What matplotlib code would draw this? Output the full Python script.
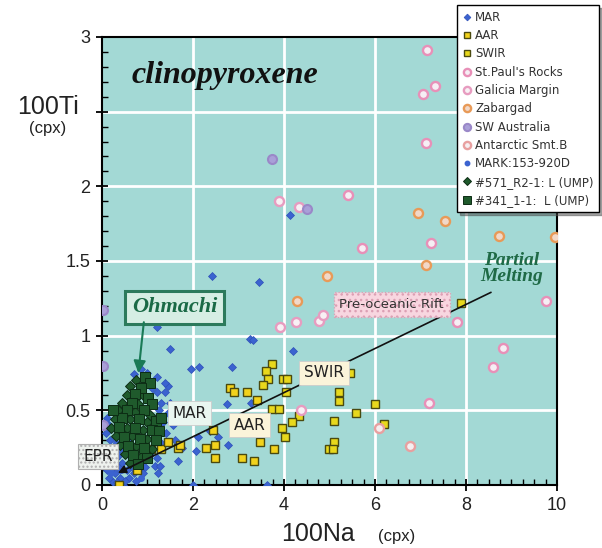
import numpy as np
import matplotlib
matplotlib.use("Agg")
import matplotlib.pyplot as plt

# ---- data (100Na, 100Ti) ----
mar_x = [4.13, 2.42, 3.46, 1.20, 3.25, 3.31, 1.49, 4.20, 1.95, 2.13, 2.86, 1.46, 1.38, 2.75, 3.27,
         2.12, 2.37, 2.56, 2.78, 2.07, 1.75, 1.66, 1.16, 1.27, 1.24, 3.62, 2.00, 0.47, 0.25, 1.60,
         0.10, 0.15, 0.08, 0.18, 0.12, 0.22, 0.30, 0.20, 0.35, 0.28, 0.40, 0.15, 0.45, 0.55, 0.60,
         0.70, 0.50, 0.38, 0.25, 0.32, 0.65, 0.80, 0.90, 0.75, 1.15, 1.25, 1.30, 1.20, 1.35, 1.40,
         1.30, 1.45, 1.10, 1.00, 0.85, 0.70, 1.55, 0.05, 0.10, 0.42, 1.38, 1.22, 1.50, 0.95, 1.05,
         1.20, 0.60]
mar_y = [1.81, 1.40, 1.36, 1.06, 0.98, 0.97, 0.91, 0.90, 0.78, 0.79, 0.79, 0.66, 0.62, 0.54, 0.55,
         0.32, 0.36, 0.32, 0.27, 0.23, 0.25, 0.16, 0.13, 0.13, 0.08, 0.00, 0.00, 0.00, 0.02, 0.30,
         0.45, 0.40, 0.35, 0.30, 0.25, 0.22, 0.18, 0.15, 0.12, 0.08, 0.05, 0.05, 0.15, 0.10, 0.05,
         0.08, 0.03, 0.20, 0.12, 0.02, 0.12, 0.10, 0.08, 0.03, 0.45, 0.50, 0.55, 0.62, 0.42, 0.35,
         0.28, 0.48, 0.65, 0.75, 0.78, 0.74, 0.40, 0.20, 0.10, 0.25, 0.68, 0.72, 0.55, 0.12, 0.20,
         0.18, 0.20]

aar_x = [1.07, 1.29, 1.46, 1.66, 1.71, 0.78, 0.37, 2.29, 2.45, 2.48, 2.48, 2.81, 2.90, 3.18, 3.40,
         3.07, 3.34, 3.47, 3.77]
aar_y = [0.24, 0.24, 0.29, 0.25, 0.27, 0.10, 0.00, 0.25, 0.37, 0.18, 0.27, 0.65, 0.62, 0.62, 0.57,
         0.18, 0.16, 0.29, 0.24]

swir_x = [3.73, 3.60, 3.64, 3.53, 3.97, 4.07, 4.04, 3.73, 3.90, 4.34, 4.17, 3.95, 4.02, 5.00, 7.89,
          5.45, 5.21, 5.21, 6.00, 5.58, 5.10, 6.20, 5.10, 5.07]
swir_y = [0.81, 0.76, 0.71, 0.67, 0.71, 0.71, 0.62, 0.51, 0.51, 0.46, 0.42, 0.38, 0.32, 0.24, 1.22,
          0.75, 0.62, 0.56, 0.54, 0.48, 0.43, 0.41, 0.29, 0.24]

stpaul_x = [7.14, 7.05, 7.32, 7.12, 5.41, 5.72, 7.23, 7.80, 9.76, 8.81, 8.59, 7.19]
stpaul_y = [2.91, 2.62, 2.67, 2.29, 1.94, 1.59, 1.62, 1.09, 1.23, 0.92, 0.79, 0.55]

galicia_x = [3.89, 4.33, 3.91, 4.26, 4.77, 4.86, 4.37]
galicia_y = [1.90, 1.86, 1.06, 1.09, 1.10, 1.14, 0.50]

zabargad_x = [6.95, 7.54, 8.73, 9.96, 7.12, 4.94, 4.28]
zabargad_y = [1.82, 1.77, 1.67, 1.66, 1.47, 1.40, 1.23]

swaus_x = [3.74, 4.51, 0.03, 0.03, 0.03]
swaus_y = [2.18, 1.85, 1.17, 0.80, 0.40]

antarc_x = [6.09, 6.77]
antarc_y = [0.38, 0.26]

mark_x = [0.30, 0.50, 0.62, 0.20, 0.42, 0.85]
mark_y = [0.28, 0.22, 0.30, 0.08, 0.10, 0.05]

ump571_x = [0.75, 0.62, 0.55, 0.90, 0.45, 0.80, 0.35, 0.72, 1.05, 0.28, 0.62, 1.00, 0.20, 0.55,
            0.90, 0.30, 0.65, 1.00, 0.40, 0.75, 1.10, 0.50, 0.85, 0.62]
ump571_y = [0.70, 0.66, 0.60, 0.60, 0.55, 0.54, 0.50, 0.49, 0.47, 0.44, 0.44, 0.42, 0.38, 0.38,
            0.37, 0.33, 0.33, 0.31, 0.27, 0.26, 0.24, 0.21, 0.19, 0.15]
ump341_x = [0.95, 1.05, 0.85, 0.72, 1.02, 0.65, 1.10, 0.55, 0.92, 0.45, 0.82, 1.18, 0.38, 0.72,
            1.10, 1.25, 0.48, 0.83, 1.18, 0.58, 0.92, 0.68, 1.00, 0.80, 1.30, 0.25]
ump341_y = [0.72, 0.68, 0.65, 0.61, 0.58, 0.55, 0.54, 0.50, 0.50, 0.45, 0.44, 0.43, 0.39, 0.38,
            0.37, 0.36, 0.32, 0.31, 0.30, 0.26, 0.25, 0.20, 0.18, 0.14, 0.45, 0.50]

# trend line, EPR end is the arrow head
melt_x = [8.55, 0.35]
melt_y = [1.29, 0.08]

xticks = [0, 2, 4, 6, 8, 10]
yticks = [0, 0.5, 1, 1.5, 2, 2.5, 3]
ytick_labels = ["0", "0.5", "1", "1.5", "2", "", "3"]

# ---- figure ----
fig = plt.figure(figsize=(6.02, 5.48), dpi=100)
ax = fig.add_axes([0.1694, 0.115, 0.7558, 0.8175])
ax.set_facecolor("#a3d9d5")

ax.set_xlim(0, 10)
ax.set_ylim(0, 3)
ax.set_xticks(xticks)
ax.set_xticks(np.arange(0, 10.01, 0.25), minor=True)
ax.set_yticks(yticks)
ax.set_yticklabels(ytick_labels)
ax.set_yticks(np.arange(0, 3.01, 0.1), minor=True)
ax.tick_params(which="major", direction="inout", length=9, width=1.3, labelsize=13, pad=4,
               labelcolor="#222222")
ax.tick_params(which="minor", direction="in", length=4, width=1.0)
for lab in ax.get_xticklabels() + ax.get_yticklabels():
    lab.set_family("Liberation Sans")
for sp in ax.spines.values():
    sp.set_linewidth(1.5)

for gx in [2, 4, 6, 8]:
    ax.axvline(gx, color="white", lw=2, zorder=1)
for gy in [0.5, 1, 1.5, 2, 2.5]:
    ax.axhline(gy, color="white", lw=2, zorder=1)

# ---- series ----
ax.plot(mar_x, mar_y, "D", ls="none", ms=4.3, mfc="#3b63d0", mec="#2e50b8", mew=0.5,
        zorder=3, label="MAR")
ax.plot(aar_x, aar_y, "s", ls="none", ms=6.2, mfc="#f2d21c", mec="#4a4a10", mew=1.0,
        zorder=4, label="AAR")
ax.plot(swir_x, swir_y, "s", ls="none", ms=6.2, mfc="#e8d81c", mec="#4a4a10", mew=1.0,
        zorder=4, label="SWIR")
ax.plot(stpaul_x, stpaul_y, "o", ls="none", ms=6.5, mfc="#f6eef4", mec="#e890b8", mew=1.7,
        zorder=4, label="St.Paul's Rocks")
ax.plot(galicia_x, galicia_y, "o", ls="none", ms=6.5, mfc="#f8f0f4", mec="#e79cc0", mew=1.7,
        zorder=4, label="Galicia Margin")
ax.plot(zabargad_x, zabargad_y, "o", ls="none", ms=6.5, mfc="#f2d8c8", mec="#e89a58", mew=1.7,
        zorder=4, label="Zabargad")
ax.plot(swaus_x, swaus_y, "o", ls="none", ms=6.5, mfc="#a9a0d8", mec="#9a88c8", mew=1.5,
        zorder=4, label="SW Australia")
ax.plot(antarc_x, antarc_y, "o", ls="none", ms=6.5, mfc="#f6eef0", mec="#e8a0a0", mew=1.7,
        zorder=4, label="Antarctic Smt.B")
ax.plot(mark_x, mark_y, "o", ls="none", ms=4, mfc="#3b63d0", mec="#3b63d0",
        zorder=3, label="MARK:153-920D")
ax.plot(ump571_x, ump571_y, "D", ls="none", ms=5.2, mfc="#1f5a2c", mec="#0c2c14", mew=0.7,
        zorder=5, label="#571_R2-1: L (UMP)")
ax.plot(ump341_x, ump341_y, "s", ls="none", ms=6.5, mfc="#1f5a2c", mec="#0c2c14", mew=0.7,
        zorder=5, label="#341_1-1:  L (UMP)")

# ---- partial melting trend ----
ax.annotate("", xy=(melt_x[1], melt_y[1]), xytext=(melt_x[0], melt_y[0]),
            arrowprops=dict(arrowstyle="-|>", color="#111111", lw=1.2,
                            mutation_scale=12, shrinkA=0, shrinkB=0), zorder=6)
ax.text(9.0, 1.45, "Partial\nMelting", ha="center", va="center", color="#1f6a46",
        fontsize=14, fontweight="bold", style="italic", family="Liberation Serif",
        linespacing=0.95, zorder=7)

box_kw = dict(ha="center", va="center", fontsize=11, family="DejaVu Sans", color="#222222", zorder=8)
ax.text(-0.09, 0.19, "EPR", clip_on=False,
        bbox=dict(boxstyle="square,pad=0.35", fc="#eef2ee", ec="#b0b0b0", lw=0.8,
                  hatch="...."), **box_kw)
ax.text(1.93, 0.48, "MAR", bbox=dict(boxstyle="square,pad=0.3", fc="#eaf6f0", ec="#cccccc", lw=0.6),
        **box_kw)
ax.text(3.25, 0.40, "AAR", bbox=dict(boxstyle="square,pad=0.3", fc="#fbf4da", ec="#cccccc", lw=0.6),
        **box_kw)
ax.text(4.88, 0.75, "SWIR", bbox=dict(boxstyle="square,pad=0.3", fc="#fbf4da", ec="#cccccc", lw=0.6),
        **box_kw)
ax.text(6.37, 1.21, "Pre-oceanic Rift", ha="center", va="center", fontsize=9.5,
        family="DejaVu Sans", color="#333333", zorder=8,
        bbox=dict(boxstyle="square,pad=0.45", fc="#f8d6e0", ec="#dca0b4", lw=0.9, ls=":",
                  hatch="..."))

# ---- Ohmachi label ----
ax.text(1.60, 1.19, "Ohmachi", ha="center", va="center", fontsize=16, fontweight="bold",
        style="italic", family="Liberation Serif", color="#1a6a46", zorder=8,
        bbox=dict(boxstyle="square,pad=0.3", fc="#d6eee4", ec="#2c7a5c", lw=2.2))
ax.annotate("", xy=(0.80, 0.75), xytext=(0.92, 1.09),
            arrowprops=dict(arrowstyle="-|>", color="#1a7a56", lw=1.5, mutation_scale=18,
                            shrinkA=0, shrinkB=0), zorder=8)

ax.text(2.7, 2.74, "clinopyroxene", ha="center", va="center", fontsize=23, fontweight="bold",
        style="italic", family="Liberation Serif", color="#111111", zorder=7)

# ---- axis titles ----
fig.text(48 / 602, 1 - 107 / 548, "100Ti", ha="center", va="center", fontsize=18,
         family="Liberation Sans", color="#222222")
fig.text(48 / 602, 1 - 129 / 548, "(cpx)", ha="center", va="center", fontsize=12,
         family="Liberation Sans", color="#222222")
fig.text(318 / 602, 1 - 534 / 548, "100Na", ha="center", va="center", fontsize=18,
         family="Liberation Sans", color="#222222")
fig.text(397 / 602, 1 - 536 / 548, "(cpx)", ha="center", va="center", fontsize=12,
         family="Liberation Sans", color="#222222")

# ---- legend ----
leg = ax.legend(loc="upper right", bbox_to_anchor=(0.995, 0.99), bbox_transform=fig.transFigure,
                fontsize=8.5, frameon=True, fancybox=False, shadow=True, framealpha=1,
                edgecolor="black", handlelength=0.7, handletextpad=0.35, labelspacing=0.45,
                borderpad=0.45, borderaxespad=0, markerscale=0.8)
leg.get_frame().set_linewidth(1.0)
leg.set_zorder(20)
for t in leg.get_texts():
    t.set_color("#333333")

fig.savefig("out.png", dpi=100)
